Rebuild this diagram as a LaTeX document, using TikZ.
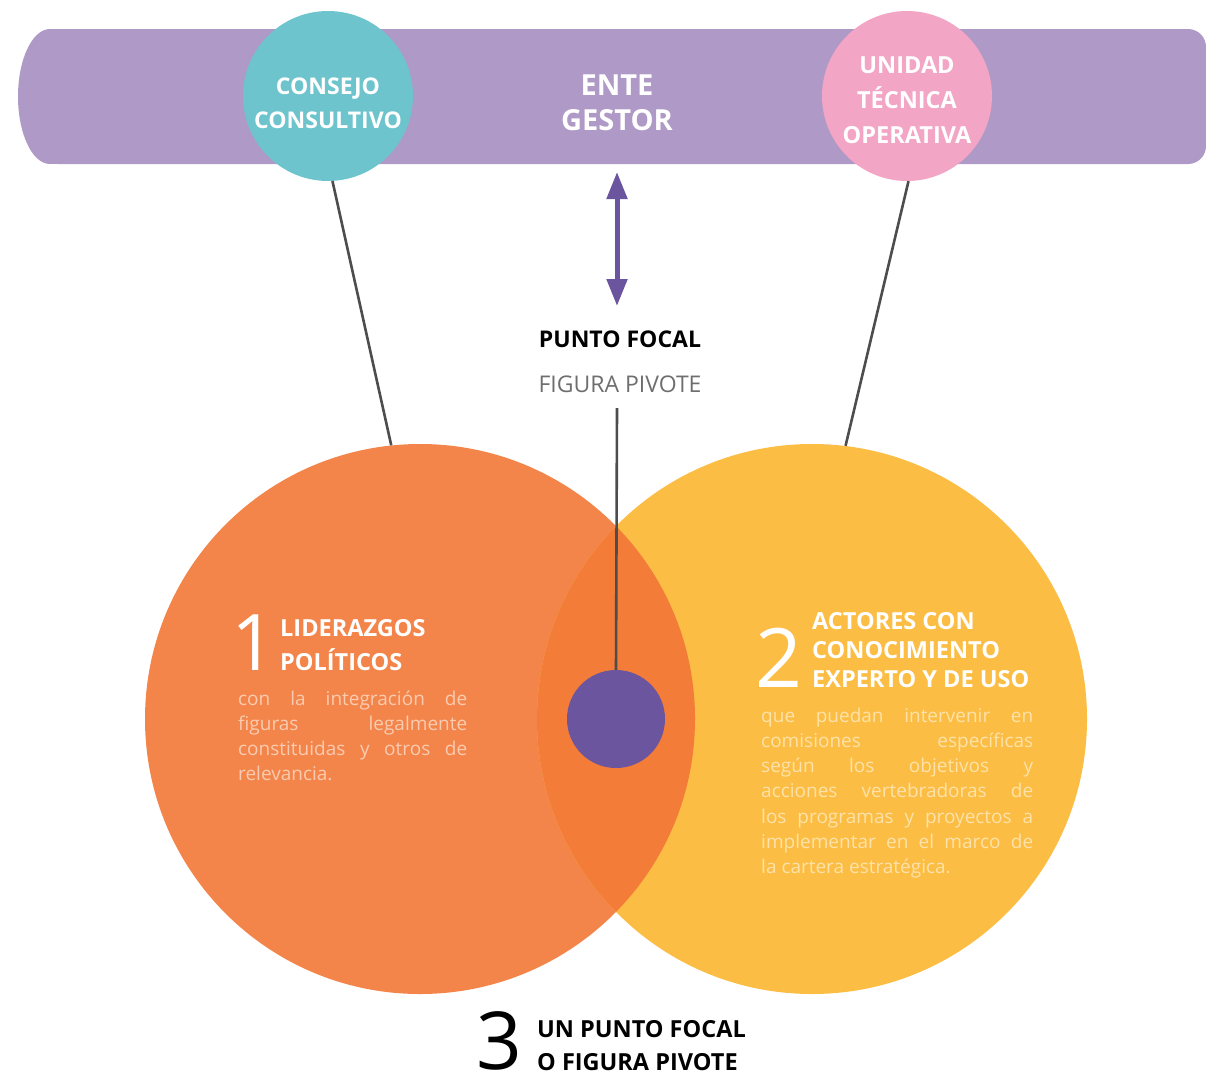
\documentclass[tikz,border=0pt]{standalone}
\usepackage{fontspec}
\setmainfont{Open Sans}
\usetikzlibrary{arrows.meta}
\definecolor{barcol}{HTML}{AF99C6}
\definecolor{tealc}{HTML}{6EC4CD}
\definecolor{pinkc}{HTML}{F2A5C4}
\definecolor{orangec}{HTML}{F3854B}
\definecolor{yellowc}{HTML}{FCBD45}
\definecolor{lensc}{HTML}{F27C38}
\definecolor{focalc}{HTML}{6A559E}
\definecolor{linec}{HTML}{4D4D4D}
\definecolor{greyt}{HTML}{6E6E6E}
\definecolor{otext}{HTML}{FACBB0}
\definecolor{ytext}{HTML}{FEE2A8}
\begin{document}
\begin{tikzpicture}[x=1pt,y=-1pt,
  blob/.style={circle,inner sep=0pt,draw=none},
  whitehd/.style={text=white,inner sep=0pt,font=\bfseries\fontsize{23}{34}\selectfont,align=center},
  cirhd/.style={text=white,inner sep=0pt,font=\bfseries\fontsize{23.5}{34}\selectfont,align=left},
  bignum/.style={inner sep=0pt,font=\fontsize{78}{78}\selectfont},
  bodytxt/.style={inner sep=0pt,font=\fontsize{19}{25.3}\selectfont,align=justify},
  conn/.style={draw=linec,line width=2.6pt},
  twoway/.style={draw=focalc,line width=5pt,{Triangle[width=20pt,length=27pt]}-{Triangle[width=20pt,length=27pt]}}
]
\useasboundingbox (0,0) rectangle (1206,1079);
% bar (ente gestor)
\fill[barcol,rounded corners=18pt] (40,29) rectangle (1206,164);
\fill[barcol] (50,29) rectangle (120,164);
\fill[barcol] (50,96.5) ellipse (32 and 67.5);
% small circles
\node[blob,fill=tealc,minimum size=170pt] (cc) at (328,96) {};
\node[blob,fill=pinkc,minimum size=170pt] (ut) at (907,96) {};
\node[whitehd,anchor=base] (cctext) at (328,128) {CONSEJO\\CONSULTIVO};
\node[whitehd,anchor=base,font=\bfseries\fontsize{23.5}{35}\selectfont] (uttext) at (907,143) {UNIDAD\\TÉCNICA\\OPERATIVA};
\node[whitehd,anchor=base,font=\bfseries\fontsize{29}{35}\selectfont] (ente) at (617,130) {ENTE\\GESTOR};
% big circles
\node[blob,fill=orangec,minimum size=550pt] (lp) at (420,719) {};
\node[blob,fill=yellowc,minimum size=550pt] (yc) at (812,719) {};
\begin{scope}
  \clip (420,719) circle (275);
  \fill[lensc] (812,719) circle (275);
\end{scope}
\node[blob,fill=focalc,minimum size=98pt] (focal) at (616,719) {};
% connectors
\draw[conn] (cc.-87) -- (lp.96);
\draw[conn] (ut.-89) -- (yc.83);
\coordinate (atop) at (617,172);
\coordinate (abot) at (617,306);
\draw[twoway] (atop) -- (abot);
\node[inner sep=0pt,anchor=base,font=\bfseries\fontsize{23}{25}\selectfont] (pf) at (620,347) {PUNTO FOCAL};
\node[inner sep=0pt,anchor=base,text=greyt,font=\fontsize{23}{25}\selectfont] (fp) at (620,392) {FIGURA PIVOTE};
\coordinate (fpl) at (617,408);
\draw[conn] (fpl) -- (focal.north);
% group 1
\node[bignum,text=white,anchor=base west] (n1) at (231,670) {1};
\node[cirhd,anchor=base west] (h1) at (280,670) {LIDERAZGOS\\POLÍTICOS};
\node[bodytxt,text=otext,text width=229pt,anchor=base west] (b1) at (238,705) {con la integración de\linebreak figuras legalmente\linebreak constituidas y otros de\linebreak relevancia.};
% group 2
\node[bignum,text=white,anchor=base west,font=\fontsize{82}{82}\selectfont] (n2) at (755,687) {2};
\node[cirhd,anchor=base west,font=\bfseries\fontsize{23.5}{29}\selectfont] (h2) at (812,687) {ACTORES CON\\CONOCIMIENTO\\EXPERTO Y DE USO};
\node[bodytxt,text=ytext,text width=272pt,anchor=base west] (b2) at (761,722) {que puedan intervenir en\linebreak comisiones específicas\linebreak según los objetivos y\linebreak acciones vertebradoras de\linebreak los programas y proyectos a\linebreak implementar en el marco de\linebreak la cartera estratégica.};
% group 3
\node[bignum,anchor=base west,font=\fontsize{80}{80}\selectfont] (n3) at (476,1069) {3};
\node[cirhd,text=black,anchor=base west,font=\bfseries\fontsize{23.5}{33}\selectfont] (h3) at (537,1070) {UN PUNTO FOCAL\\O FIGURA PIVOTE};
\end{tikzpicture}
\end{document}
